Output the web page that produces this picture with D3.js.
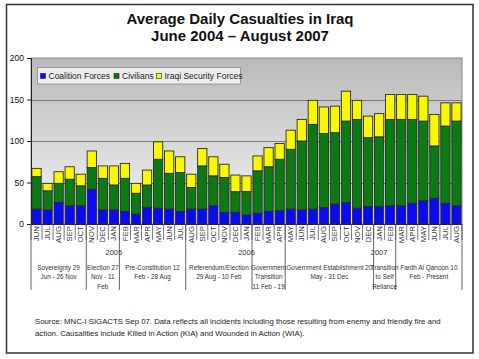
<!DOCTYPE html>
<html>
<head>
<meta charset="utf-8">
<script src="https://cdn.jsdelivr.net/npm/d3@7"></script>
<style>
  html, body { margin: 0; padding: 0; background: #fff; }
  svg { display: block; font-family: Arial, "Liberation Sans", sans-serif; }
</style>
</head>
<body>
<svg id="chart" width="479" height="359"></svg>
<script>
// ---------- data ----------
const months = ["JUN","JUL","AUG","SEP","OCT","NOV","DEC",
  "JAN","FEB","MAR","APR","MAY","JUN","JUL","AUG","SEP","OCT","NOV","DEC",
  "JAN","FEB","MAR","APR","MAY","JUN","JUL","AUG","SEP","OCT","NOV","DEC",
  "JAN","FEB","MAR","APR","MAY","JUN","JUL","AUG"];
const seriesNames = ["Coalition Forces", "Civilians", "Iraqi Security Forces"];
const coalition = [18,17,26,22,22,42,17,17,15,12,20,19,18,15,18,18,22,14,14,11,13,15,16,18,17,18,20,24,26,19,21,21,22,22,25,28,31,25,22];
const civilians = [39,23,23,32,24,26,38,30,40,25,27,59,43,47,26,52,36,42,25,28,51,54,62,72,83,102,89,86,98,107,83,84,104,104,101,96,63,93,102];
const iraqiSF   = [10,9,14,15,14,20,15,23,18,12,18,21,27,19,16,21,23,16,20,19,18,23,19,23,26,29,32,32,36,23,26,28,30,30,30,30,38,28,22];
const yTicks = [0, 50, 100, 150, 200];
const years = ["2005", "2006", "2007"];
const periodLabels = [
  ["Sovereignty 29", "Jun - 26 Nov"],
  ["Election 27", "Nov - 11", "Feb"],
  ["Pre-Constitution 12", "Feb - 28 Aug"],
  ["Referendum/Election", "29 Aug - 10 Feb"],
  ["Government", "Transition", "11 Feb - 19"],
  ["Government Establishment 20", "May - 31 Dec"],
  ["Transition", "to Self", "Reliance"],
  ["Fardh Al Qanoon 10", "Feb - Present"]
];
const periodMonths = [5, 3, 6, 6, 3, 8, 2, 6];
const titleLines = ["Average Daily Casualties in Iraq", "June 2004 \u2013 August 2007"];
const sourceLines = [
  "Source:  MNC-I SIGACTS Sep 07.  Data reflects all incidents including those resulting from enemy and friendly fire and",
  "action.  Causalities include Killed in Action (KIA) and Wounded in Action (WIA)."
];

// ---------- layout ----------
const colors = ["#0b0bf2", "#0c7a12", "#f8f800"];
const plot = { left: 31, right: 462, top: 58, bottom: 224 };

const svg = d3.select("#chart");

// outer frame
svg.append("rect").attr("x", 6.5).attr("y", 4.5).attr("width", 466.5).attr("height", 348.5)
  .attr("fill", "#fff").attr("stroke", "#333").attr("stroke-width", 1.5);

// title
svg.selectAll("text.title").data(titleLines).join("text")
  .attr("class", "title")
  .attr("x", 240).attr("y", (d, i) => 23.5 + i * 17)
  .attr("text-anchor", "middle").attr("font-size", 15).attr("font-weight", "bold")
  .attr("fill", "#111").text(d => d);

// scales
const idx = d3.range(months.length);
const x = d3.scaleBand().domain(idx).range([plot.left, plot.right]).paddingInner(0.16).paddingOuter(0.08);
const y = d3.scaleLinear().domain([0, 200]).range([plot.bottom, plot.top]);

// background gradient
const defs = svg.append("defs");
const grad = defs.append("linearGradient").attr("id", "bg").attr("x1", 0).attr("y1", 0).attr("x2", 0).attr("y2", 1);
grad.append("stop").attr("offset", "0%").attr("stop-color", "#b9b9b9");
grad.append("stop").attr("offset", "100%").attr("stop-color", "#f5f5f5");

svg.append("rect").attr("x", plot.left).attr("y", plot.top)
  .attr("width", plot.right - plot.left).attr("height", plot.bottom - plot.top)
  .attr("fill", "url(#bg)").attr("stroke", "#8a8a8a").attr("stroke-width", 1);

// gridlines
svg.append("g").selectAll("line").data(yTicks.filter(t => t > 0 && t < 200)).join("line")
  .attr("x1", plot.left).attr("x2", plot.right)
  .attr("y1", d => Math.round(y(d)) + 0.5).attr("y2", d => Math.round(y(d)) + 0.5)
  .attr("stroke", "#7a7a7a").attr("stroke-width", 1);

// stacked bars
const table = idx.map(i => ({ i, c0: coalition[i], c1: civilians[i], c2: iraqiSF[i] }));
const stack = d3.stack().keys(["c0", "c1", "c2"]);
const layers = stack(table);
svg.append("g").selectAll("g").data(layers).join("g")
  .attr("fill", (d, k) => colors[k])
  .selectAll("rect").data(d => d).join("rect")
  .attr("x", d => x(d.data.i))
  .attr("width", x.bandwidth())
  .attr("y", d => y(d[1]))
  .attr("height", d => y(d[0]) - y(d[1]))
  .attr("stroke", "#2a2a2a").attr("stroke-width", 0.9);

// y axis
const yAxis = d3.axisLeft(y).tickValues(yTicks).tickSize(4).tickPadding(3);
const gy = svg.append("g").attr("transform", `translate(${plot.left},0)`).call(yAxis);
gy.select(".domain").attr("stroke", "#222");
gy.selectAll(".tick line").attr("stroke", "#222");
gy.selectAll("text").attr("font-size", 8.5).attr("fill", "#111").attr("font-family", "Arial, 'Liberation Sans', sans-serif");

// x axis line
svg.append("line").attr("x1", plot.left).attr("x2", plot.right)
  .attr("y1", plot.bottom + 0.5).attr("y2", plot.bottom + 0.5).attr("stroke", "#222");

// month labels (rotated) via axis
const xAxis = d3.axisBottom(x).tickSize(0).tickPadding(0).tickFormat(i => months[i]);
const gx = svg.append("g").attr("transform", `translate(0,${plot.bottom})`).call(xAxis);
gx.select(".domain").remove();
gx.selectAll("text")
  .attr("transform", "rotate(-90)")
  .attr("x", -2).attr("y", 0).attr("dy", "0.33em")
  .attr("text-anchor", "end")
  .attr("font-size", 7.8).attr("fill", "#333")
  .attr("font-family", "Arial, 'Liberation Sans', sans-serif");

// month separators
const bx = k => plot.left + k * (plot.right - plot.left) / months.length;
const bounds = d3.range(months.length + 1).map(bx);
svg.append("g").selectAll("line").data(bounds).join("line")
  .attr("x1", d => d).attr("x2", d => d)
  .attr("y1", plot.bottom).attr("y2", plot.bottom + 16)
  .attr("stroke", "#555").attr("stroke-width", 0.8);

// year labels under JAN
const janIdx = idx.filter(i => months[i] === "JAN" && i > 0);
svg.append("g").selectAll("text").data(janIdx).join("text")
  .attr("x", d => x(d) + x.bandwidth() / 2).attr("y", 255)
  .attr("text-anchor", "middle").attr("font-size", 7.5).attr("fill", "#333")
  .text((d, k) => years[k]);

// period boundaries and labels
const cum = [0];
periodMonths.forEach(m => cum.push(cum[cum.length - 1] + m));
svg.append("g").selectAll("line").data(cum).join("line")
  .attr("x1", d => bx(d)).attr("x2", d => bx(d))
  .attr("y1", plot.bottom).attr("y2", 290)
  .attr("stroke", "#555").attr("stroke-width", 0.9);

const pg = svg.append("g").selectAll("text").data(periodLabels).join("text")
  .attr("text-anchor", "middle").attr("font-size", 6.4).attr("fill", "#333")
  .attr("x", (d, k) => (bx(cum[k]) + bx(cum[k + 1])) / 2);
pg.selectAll("tspan").data(d => d).join("tspan")
  .attr("x", function () { return d3.select(this.parentNode).attr("x"); })
  .attr("y", (d, j) => 269.5 + j * 9.5)
  .text(d => d);

// legend
const lg = svg.append("g");
lg.append("rect").attr("x", 37.5).attr("y", 67.5).attr("width", 203).attr("height", 16.5)
  .attr("fill", "#ededed").attr("stroke", "#8a8a8a").attr("stroke-width", 0.8);
const legendX = [40.5, 114, 156.5];
const li = lg.selectAll("g").data(seriesNames).join("g")
  .attr("transform", (d, k) => `translate(${legendX[k]},76)`);
li.append("rect").attr("x", 0).attr("y", -2.5).attr("width", 5).attr("height", 5)
  .attr("fill", (d, k) => colors[k]).attr("stroke", "#222").attr("stroke-width", 0.6);
li.append("text").attr("x", 8).attr("y", 0).attr("dy", "0.35em")
  .attr("font-size", 8.5).attr("fill", "#222").text(d => d);

// source note
svg.selectAll("text.src").data(sourceLines).join("text")
  .attr("class", "src")
  .attr("x", 35).attr("y", (d, i) => 324 + i * 11.5)
  .attr("font-size", 7.8).attr("fill", "#222").text(d => d);
</script>
</body>
</html>
